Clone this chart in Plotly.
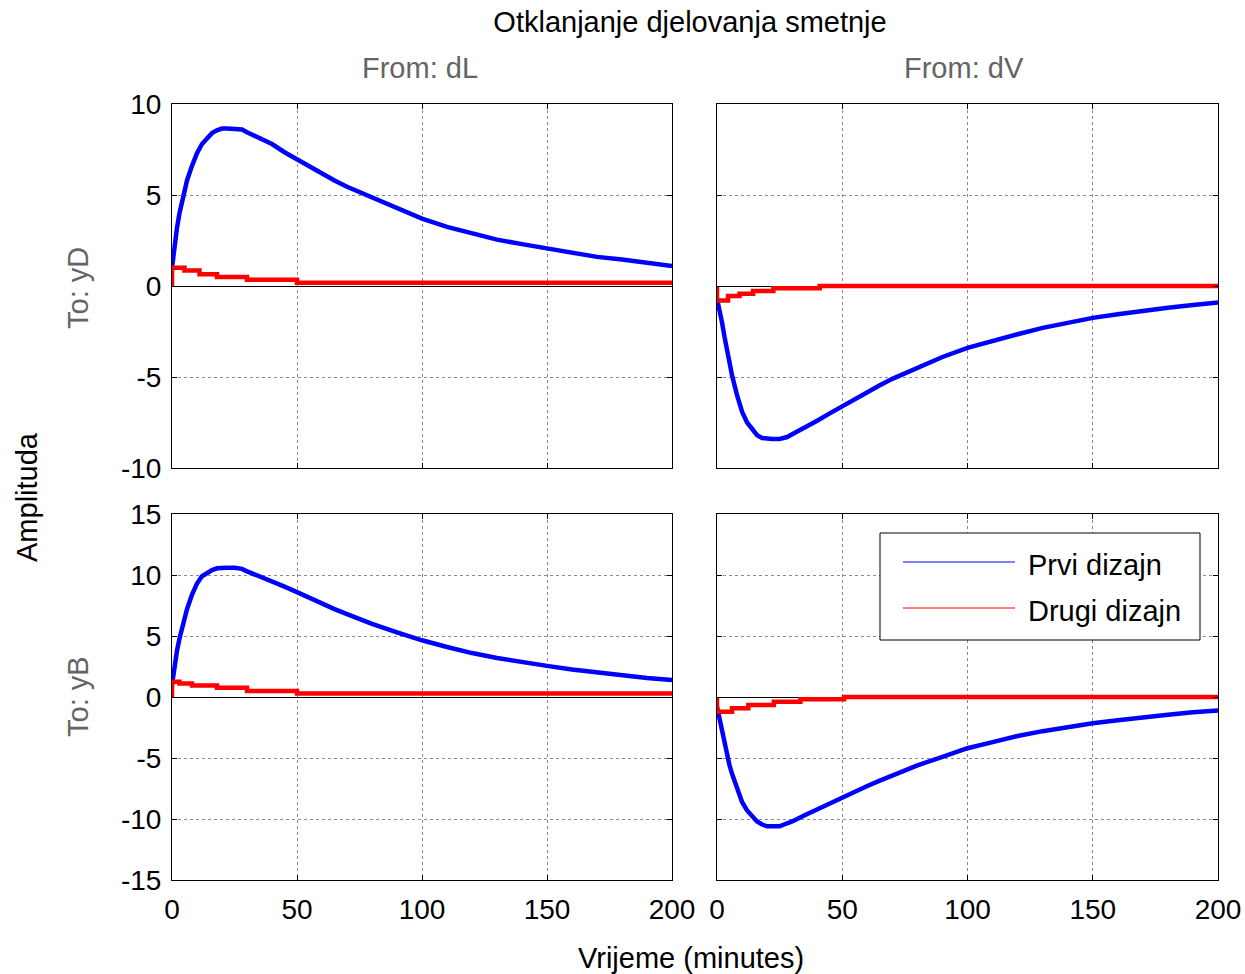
import plotly.graph_objects as go

# ---------------- data ----------------
t = [0, 1, 2, 3, 4, 5, 6, 8, 10, 12, 14, 16, 18, 20, 22, 25, 28, 30, 35, 40, 45, 50,
     55, 60, 65, 70, 75, 80, 90, 100, 110, 120, 130, 140, 150, 160, 170, 180, 190, 200]

# Prvi dizajn (blue)
prvi_dL_yD = [1.0, 2.2, 3.2, 4.0, 4.7, 5.3, 5.8, 6.6, 7.3, 7.8, 8.1, 8.4, 8.55, 8.65, 8.65, 8.65,
              8.6, 8.45, 8.15, 7.8, 7.35, 6.95, 6.6, 6.2, 5.8, 5.45, 5.15, 4.85, 4.25, 3.7, 3.25,
              2.9, 2.55, 2.3, 2.05, 1.8, 1.6, 1.45, 1.25, 1.1]
prvi_dV_yD = [-0.7, -1.3, -2.0, -2.8, -3.6, -4.3, -4.9, -6.0, -6.9, -7.5, -7.9, -8.2, -8.35, -8.4,
              -8.4, -8.4, -8.3, -8.15, -7.8, -7.4, -7.0, -6.6, -6.2, -5.85, -5.45, -5.1, -4.8, -4.5,
              -3.9, -3.4, -3.0, -2.65, -2.3, -2.0, -1.75, -1.55, -1.35, -1.2, -1.05, -0.9]
prvi_dL_yB = [1.0, 2.5, 3.8, 4.8, 5.7, 6.5, 7.2, 8.4, 9.3, 9.9, 10.2, 10.4, 10.55, 10.6, 10.6, 10.6,
              10.5, 10.3, 9.9, 9.5, 9.05, 8.6, 8.1, 7.6, 7.2, 6.8, 6.4, 6.0, 5.3, 4.65, 4.1, 3.6,
              3.2, 2.85, 2.55, 2.25, 2.0, 1.75, 1.55, 1.4]
prvi_dV_yB = [-0.8, -1.8, -2.9, -3.9, -4.8, -5.6, -6.3, -7.6, -8.6, -9.3, -9.8, -10.2, -10.45, -10.6,
              -10.6, -10.6, -10.35, -10.2, -9.7, -9.2, -8.75, -8.3, -7.8, -7.3, -6.85, -6.4, -6.0,
              -5.6, -4.9, -4.2, -3.7, -3.2, -2.8, -2.45, -2.15, -1.9, -1.65, -1.45, -1.25, -1.1]

# Drugi dizajn (red) - staircase responses
t_drugi_dL_yD = [0, 0, 5, 11, 18, 30, 50, 200]
drugi_dL_yD = [0, 1.0, 0.85, 0.65, 0.5, 0.35, 0.18, 0.18]
t_drugi_dV_yD = [0, 0, 4.4, 9, 14.4, 22.5, 41, 200]
drugi_dV_yD = [0, -0.8, -0.55, -0.42, -0.28, -0.12, 0.0, 0.0]
t_drugi_dL_yB = [0, 0, 3, 8, 18, 30, 50, 200]
drugi_dL_yB = [0, 1.25, 1.1, 0.95, 0.75, 0.5, 0.28, 0.28]
t_drugi_dV_yB = [0, 0, 6, 12.5, 22.7, 33.3, 50.7, 200]
drugi_dV_yB = [0, -1.2, -0.93, -0.66, -0.38, -0.19, 0.0, 0.0]

x_ticks = [0, 50, 100, 150, 200]
x_tick_labels = ["0", "50", "100", "150", "200"]
y_ticks_top = [-10, -5, 0, 5, 10]
y_tick_labels_top = ["-10", "-5", "0", "5", "10"]
y_ticks_bot = [-15, -10, -5, 0, 5, 10, 15]
y_tick_labels_bot = ["-15", "-10", "-5", "0", "5", "10", "15"]

series_names = ["Prvi dizajn", "Drugi dizajn"]
title_text = "Otklanjanje djelovanja smetnje"
col_titles = ["From: dL", "From: dV"]
row_titles = ["To: yD", "To: yB"]

# ---------------- layout geometry ----------------
W, H = 1245, 974
def px_x(p):
    return p / W
def px_y(p):
    return 1 - p / H

col1 = [px_x(172), px_x(672)]
col2 = [px_x(717), px_x(1218)]
rowT = [px_y(468), px_y(104)]
rowB = [px_y(880), px_y(514)]

BLUE = "#0000FF"
RED = "#FF0000"
FONT = "Liberation Sans, Arial, sans-serif"
FS_TICK = 28
FS = 29
GRAY = "#646464"
LW = 4.5

fig = go.Figure()

panels = [
    ("x", "y", prvi_dL_yD, t_drugi_dL_yD, drugi_dL_yD),
    ("x2", "y2", prvi_dV_yD, t_drugi_dV_yD, drugi_dV_yD),
    ("x3", "y3", prvi_dL_yB, t_drugi_dL_yB, drugi_dL_yB),
    ("x4", "y4", prvi_dV_yB, t_drugi_dV_yB, drugi_dV_yB),
]
for xa, ya, blue_vals, tr, red_vals in panels:
    fig.add_trace(go.Scatter(x=t, y=blue_vals, mode="lines", xaxis=xa, yaxis=ya,
                             line=dict(color=BLUE, width=LW), name=series_names[0],
                             showlegend=False))
    fig.add_trace(go.Scatter(x=tr, y=red_vals, mode="lines", xaxis=xa, yaxis=ya,
                             line=dict(color=RED, width=LW, shape="hv"), name=series_names[1],
                             showlegend=False))

def xaxis_cfg(domain, anchor, labels):
    return dict(domain=domain, anchor=anchor, range=[0, 200], tickvals=x_ticks,
                ticktext=x_tick_labels,
                showticklabels=labels, ticks="inside", ticklen=5, tickcolor="black",
                showline=True, linecolor="black", linewidth=1, mirror="ticks",
                showgrid=True, gridcolor="#8a8a8a", griddash="dot", gridwidth=1,
                zeroline=False, tickfont=dict(family=FONT, size=FS_TICK, color="black"),
                ticklabelstandoff=4)

def yaxis_cfg(domain, anchor, rng, ticks, texts, labels):
    return dict(domain=domain, anchor=anchor, range=rng, tickvals=ticks, ticktext=texts,
                showticklabels=labels, ticks="inside", ticklen=5, tickcolor="black",
                showline=True, linecolor="black", linewidth=1, mirror="ticks",
                showgrid=True, gridcolor="#8a8a8a", griddash="dot", gridwidth=1,
                zeroline=True, zerolinecolor="black", zerolinewidth=1,
                tickfont=dict(family=FONT, size=FS_TICK, color="black"), ticklabelstandoff=4)

fig.update_layout(
    width=W, height=H,
    paper_bgcolor="white", plot_bgcolor="white",
    margin=dict(l=0, r=0, t=0, b=0, autoexpand=False),
    showlegend=False,
    font=dict(family=FONT, size=FS, color="black"),
    title=dict(text=title_text, x=px_x(690), y=px_y(22), xref="paper", yref="paper",
               xanchor="center", yanchor="middle",
               font=dict(family=FONT, size=FS, color="black")),
    xaxis=xaxis_cfg(col1, "y", False),
    yaxis=yaxis_cfg(rowT, "x", [-10, 10], y_ticks_top, y_tick_labels_top, True),
    xaxis2=xaxis_cfg(col2, "y2", False),
    yaxis2=yaxis_cfg(rowT, "x2", [-10, 10], y_ticks_top, y_tick_labels_top, False),
    xaxis3=xaxis_cfg(col1, "y3", True),
    yaxis3=yaxis_cfg(rowB, "x3", [-15, 15], y_ticks_bot, y_tick_labels_bot, True),
    xaxis4=xaxis_cfg(col2, "y4", True),
    yaxis4=yaxis_cfg(rowB, "x4", [-15, 15], y_ticks_bot, y_tick_labels_bot, False),
)

ann = []
ann.append(dict(text=col_titles[0], x=px_x(420), y=px_y(68), xref="paper", yref="paper",
                showarrow=False, xanchor="center", yanchor="middle",
                font=dict(family=FONT, size=FS, color=GRAY)))
ann.append(dict(text=col_titles[1], x=px_x(964), y=px_y(68), xref="paper", yref="paper",
                showarrow=False, xanchor="center", yanchor="middle",
                font=dict(family=FONT, size=FS, color=GRAY)))
ann.append(dict(text=row_titles[0], x=px_x(78), y=px_y(288), xref="paper", yref="paper",
                showarrow=False, xanchor="center", yanchor="middle", textangle=-90,
                font=dict(family=FONT, size=FS, color=GRAY)))
ann.append(dict(text=row_titles[1], x=px_x(78), y=px_y(697), xref="paper", yref="paper",
                showarrow=False, xanchor="center", yanchor="middle", textangle=-90,
                font=dict(family=FONT, size=FS, color=GRAY)))
ann.append(dict(text="Amplituda", x=px_x(27), y=px_y(497), xref="paper", yref="paper",
                showarrow=False, xanchor="center", yanchor="middle", textangle=-90,
                font=dict(family=FONT, size=FS, color="black")))
ann.append(dict(text="Vrijeme (minutes)", x=px_x(691), y=px_y(958), xref="paper", yref="paper",
                showarrow=False, xanchor="center", yanchor="middle",
                font=dict(family=FONT, size=FS, color="black")))

# legend (drawn box in bottom-right panel)
shapes = []
shapes.append(dict(type="rect", xref="paper", yref="paper",
                   x0=px_x(880), x1=px_x(1200), y0=px_y(640), y1=px_y(533),
                   line=dict(color="black", width=1), fillcolor="white", layer="above"))
for name, col, yy in [(series_names[0], BLUE, 562), (series_names[1], RED, 608)]:
    shapes.append(dict(type="line", xref="paper", yref="paper",
                       x0=px_x(903), x1=px_x(1015), y0=px_y(yy), y1=px_y(yy),
                       line=dict(color=col, width=1), layer="above"))
    ann.append(dict(text=name, x=px_x(1026), y=px_y(yy + 3), xref="paper", yref="paper",
                    showarrow=False, xanchor="left", yanchor="middle",
                    font=dict(family=FONT, size=FS, color="black")))

fig.update_layout(annotations=ann, shapes=shapes)
fig.write_html("out.html", config={"displayModeBar": False},
               post_script="document.body.style.margin='0';document.body.style.overflow='hidden';")
